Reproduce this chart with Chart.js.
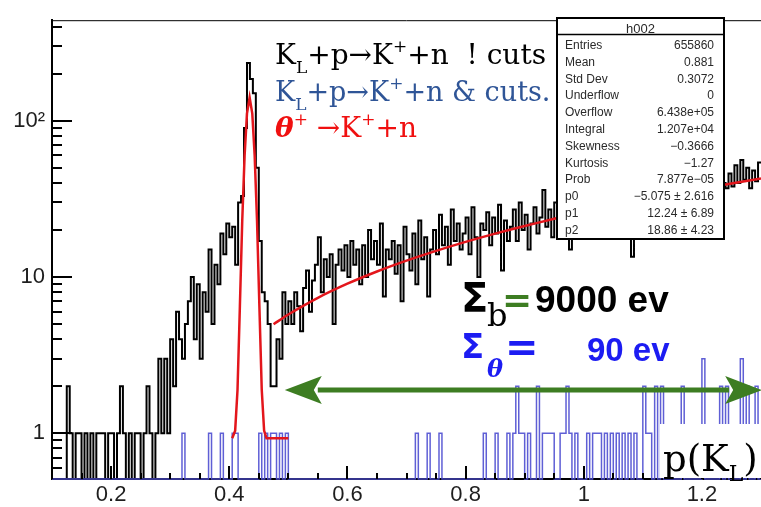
<!DOCTYPE html>
<html>
<head>
<meta charset="utf-8">
<title>p(K_L) spectrum</title>
<script src="https://cdn.jsdelivr.net/npm/chart.js@4.4.1/dist/chart.umd.min.js"></script>
<style>
  html, body { margin: 0; padding: 0; background: #fff; overflow: hidden; }
  #wrap { width: 761px; height: 507px; }
</style>
</head>
<body>
<div id="wrap"><canvas id="c" width="761" height="507"></canvas></div>
<script>
// ---- binning and axis ranges ----
const BIN_START = 0.100;
const BIN_WIDTH = 0.005;
const X_MIN = 0.1, X_MAX = 1.3;
const Y_MIN = 0.51, Y_MAX = 440;

const xTickValues = [0.2, 0.4, 0.6, 0.8, 1.0, 1.2];
const xTickLabels = ['0.2', '0.4', '0.6', '0.8', '1', '1.2'];
const yTickValues = [1, 10, 100];
const yTickLabels = ['1', '10', '10\u00B2'];
const yMinorValues = [0.6, 0.7, 0.8, 0.9, 2, 3, 4, 5, 6, 7, 8, 9, 20, 30, 40, 50, 60, 70, 80, 90, 200, 300, 400];

// ---- K_L + p -> K+ + n, no cuts (black), counts per 0.005 bin from 0.100 ----
const blackLow = [0, 0, 0, 0, 0, 2, 1, 0, 1, 1, 0, 1, 0, 1, 0, 1, 1, 1, 0, 1,
                  1, 0, 1, 2, 1, 0, 1, 0, 1, 1, 0, 1, 2, 1, 0, 1];            // 0.100 - 0.275
const blackRise = [3, 1, 3, 1, 4, 2, 6, 4, 3, 5, 7, 10, 4, 9, 3, 8, 6, 15, 5, 12,
                   9, 19, 14, 22, 18, 21, 12, 30];                             // 0.280 - 0.415
const blackPeak = [33, 90, 234, 185, 150, 50, 17, 8, 7, 5, 2, 2, 4, 3, 8, 5];  // 0.420 - 0.495
const blackMid = [7, 5, 8, 6.5, 4.5, 8.5, 11, 6, 9.5, 12,
                  18, 8, 13, 10, 14, 5, 12, 15, 11, 16,
                  10, 17, 12, 15, 9, 16, 10, 20, 13, 17,
                  12, 22, 7.5, 15, 13, 17, 10.5, 16, 7, 21,
                  14, 11, 19, 9, 23, 13, 18, 7.5, 15, 20,
                  14, 25, 16, 21, 12, 27, 17, 22, 15, 19,
                  24, 14, 28, 18, 10, 22, 20, 26, 16, 24,
                  19, 29, 11, 23, 17, 21, 27, 17, 30, 20,
                  25, 15, 22, 28, 19, 24, 36, 21, 27, 18,
                  30];                                                         // 0.500 - 0.950
const blackHigh = [20, 27, 22, 31, 15, 26, 21, 33, 24, 29,
                   19, 27, 34, 23, 30, 21, 28, 36, 25, 31,
                   22, 29, 35, 26, 30, 13.5, 24, 37, 27, 33,
                   23, 31, 39, 28, 35, 25, 32, 40, 29, 36,
                   26, 34, 42, 30, 37, 28, 35, 44, 32, 39,
                   29, 38, 46, 33, 41, 31, 40, 37, 46, 38,
                   52, 40, 56, 42, 50, 37, 48, 41, 54];                        // 0.955 - 1.295
const blackCounts = [...blackLow, ...blackRise, ...blackPeak, ...blackMid, ...blackHigh];

// ---- K_L + p -> K+ + n with cuts (blue): occupied bins only ----
const blueBinLow = [0.320, 0.365, 0.385, 0.405, 0.410, 0.450, 0.460, 0.470, 0.475, 0.485, 0.495,
                    0.715, 0.735, 0.755, 0.830, 0.850, 0.870, 0.880, 0.885, 0.890, 0.895,
                    0.905, 0.920, 0.930, 0.935, 0.940, 0.945, 0.960, 0.965, 0.970, 0.975,
                    0.985, 1.005, 1.015, 1.020, 1.025, 1.035, 1.045, 1.055, 1.065, 1.075,
                    1.085, 1.100, 1.105, 1.110, 1.120, 1.130, 1.165, 1.200, 1.230, 1.240,
                    1.265, 1.275, 1.290];
const blueBinCount = [1, 1, 1, 1, 1, 1, 1, 1, 1, 1, 1,
                      1, 1, 1, 1, 1, 1, 1, 2, 1, 1,
                      1, 2, 1, 1, 1, 1, 1, 1, 2, 1,
                      1, 1, 1, 1, 1, 1, 1, 1, 1, 1,
                      1, 2, 1, 1, 2, 2, 2, 3, 2, 2,
                      3, 2, 2];

// ---- theta+ -> K+ + n signal shape (red) ----
const peakX = [0.405, 0.410, 0.414, 0.418, 0.422, 0.426, 0.430, 0.4345, 0.439, 0.443, 0.447, 0.451, 0.455, 0.459, 0.463, 0.500];
const peakY = [0.93, 1.04, 1.9, 6.5, 23, 60, 111, 141, 111, 60, 23, 6.5, 1.9, 1.04, 0.93, 0.93];

// ---- background fit (pol2, parameters p0..p2 in the stats box) ----
const fitX = [0.475, 0.50, 0.55, 0.60, 0.65, 0.70, 0.75, 0.80, 0.85, 0.90, 0.95, 1.00, 1.05, 1.10, 1.15, 1.20, 1.25, 1.30];
const fitY = [4.99, 5.76, 7.36, 9.06, 10.85, 12.73, 14.71, 16.79, 18.96, 21.22, 23.57, 26.03, 28.57, 31.21, 33.94, 36.77, 39.69, 42.71];

// ---- statistics panel ----
const statTitle = 'h002';
const statNames = ['Entries', 'Mean', 'Std Dev', 'Underflow', 'Overflow', 'Integral', 'Skewness', 'Kurtosis', 'Prob', 'p0', 'p1', 'p2'];
const statValues = ['655860', '0.881', '0.3072', '0', '6.438e+05', '1.207e+04', '\u22120.3666', '\u22121.27',
                    '7.877e\u221205', '\u22125.075 \u00B1 2.616', '12.24 \u00B1 6.89', '18.86 \u00B1 4.23'];

// green double arrow spanning the momentum window (data coordinates)
const arrowX = [0.494, 1.302];
const arrowY = 1.89;

// ---------------------------------------------------------------
function binEdge(i) { return +(BIN_START + i * BIN_WIDTH).toFixed(4); }

// step outline of a histogram; empty bins sit on the bottom of the log axis
function histPoints(counts) {
  const pts = counts.map((c, i) => ({ x: binEdge(i), y: c > 0 ? c : Y_MIN }));
  pts.push({ x: binEdge(counts.length), y: pts[pts.length - 1].y });
  return pts;
}

const blueCounts = new Array(blackCounts.length).fill(0);
blueBinLow.forEach((b, k) => { blueCounts[Math.round((b - BIN_START) / BIN_WIDTH)] = blueBinCount[k]; });

const RED = '#e3161c';
const GREEN = '#3d7d22';

function drawRuns(ctx, x, y, runs) {
  for (const r of runs) {
    ctx.font = r.font;
    ctx.fillStyle = r.color;
    ctx.fillText(r.text, x, y + (r.dy || 0));
    x += ctx.measureText(r.text).width;
  }
}

const decor = {
  id: 'decor',
  afterDatasetsDraw(chart) {
    const { ctx, chartArea: a, scales: { x, y } } = chart;
    ctx.save();
    ctx.strokeStyle = '#000';
    ctx.lineWidth = 1;
    ctx.beginPath();
    ctx.moveTo(a.left, a.top + 0.5);
    ctx.lineTo(a.right, a.top + 0.5);
    ctx.stroke();

    ctx.lineWidth = 2;
    ctx.beginPath();
    for (let k = 0; k <= Math.round((X_MAX - X_MIN) / 0.05); k++) {
      const v = X_MIN + k * 0.05;
      const px = Math.round(x.getPixelForValue(v));
      const major = xTickValues.some(t => Math.abs(t - v) < 1e-6);
      ctx.moveTo(px, a.bottom);
      ctx.lineTo(px, a.bottom - (major ? 13 : 6));
    }
    for (const v of yTickValues) {
      const py = Math.round(y.getPixelForValue(v));
      ctx.moveTo(a.left, py); ctx.lineTo(a.left + 20, py);
    }
    for (const v of yMinorValues) {
      const py = Math.round(y.getPixelForValue(v));
      ctx.moveTo(a.left, py); ctx.lineTo(a.left + 10, py);
    }
    ctx.stroke();
    ctx.restore();
  },
  afterDraw(chart) {
    const { ctx, scales: { x, y } } = chart;
    ctx.save();
    ctx.textBaseline = 'alphabetic';
    ctx.textAlign = 'left';

    // legend lines
    const serif = '"DejaVu Serif", serif';
    const big = '28px ' + serif, small = '17px ' + serif;
    drawRuns(ctx, 275, 64, [
      { text: 'K', font: big, color: '#000' },
      { text: 'L', font: small, color: '#000', dy: 9 },
      { text: '+p\u2192K', font: big, color: '#000' },
      { text: '+', font: small, color: '#000', dy: -12 },
      { text: '+n  ! cuts', font: big, color: '#000' }
    ]);
    const lb = '#2f5597';
    const big2 = '27px ' + serif;
    drawRuns(ctx, 275, 101, [
      { text: 'K', font: big2, color: lb },
      { text: 'L', font: small, color: lb, dy: 9 },
      { text: '+p\u2192K', font: big2, color: lb },
      { text: '+', font: small, color: lb, dy: -12 },
      { text: '+n & cuts.', font: big2, color: lb }
    ]);
    drawRuns(ctx, 275, 137, [
      { text: '\u03B8', font: 'bold italic 28px ' + serif, color: '#f01010' },
      { text: '+', font: small, color: '#f01010', dy: -12 },
      { text: ' \u2192K', font: big, color: '#f01010' },
      { text: '+', font: small, color: '#f01010', dy: -12 },
      { text: '+n', font: big, color: '#f01010' }
    ]);

    // event counts
    const sans = '"DejaVu Sans", sans-serif';
    ctx.fillStyle = '#000';
    ctx.font = 'bold 40px ' + sans;
    ctx.fillText('\u03A3', 461, 312);
    ctx.font = '32px ' + serif;
    ctx.fillText('b', 487, 326);
    ctx.fillStyle = GREEN;
    ctx.font = 'bold 36px ' + sans;
    ctx.fillText('=', 502, 312);
    ctx.fillStyle = '#000';
    ctx.font = 'bold 37px "Liberation Sans", Arial, sans-serif';
    ctx.fillText('9000 ev', 535, 312);

    const sb = '#1c1cf2';
    ctx.fillStyle = sb;
    ctx.font = 'bold 34px ' + sans;
    ctx.fillText('\u03A3', 461, 358);
    ctx.font = 'bold italic 24px ' + serif;
    ctx.fillText('\u03B8', 487, 377);
    ctx.font = 'bold 40px ' + sans;
    ctx.fillText('=', 505, 361);
    ctx.font = 'bold 33px "Liberation Sans", Arial, sans-serif';
    ctx.fillText('90 ev', 587, 361);

    // double arrow
    const ax0 = x.getPixelForValue(arrowX[0]);
    const ax1 = x.getPixelForValue(arrowX[1]);
    const ay = y.getPixelForValue(arrowY);
    const head = 37, half = 14;
    ctx.strokeStyle = GREEN;
    ctx.fillStyle = GREEN;
    ctx.lineWidth = 5;
    ctx.beginPath();
    ctx.moveTo(ax0 + head - 4, ay);
    ctx.lineTo(ax1 - head + 4, ay);
    ctx.stroke();
    ctx.beginPath();
    ctx.moveTo(ax0, ay);
    ctx.lineTo(ax0 + head, ay - half);
    ctx.lineTo(ax0 + head - 8, ay);
    ctx.lineTo(ax0 + head, ay + half);
    ctx.closePath();
    ctx.fill();
    ctx.beginPath();
    ctx.moveTo(ax1, ay);
    ctx.lineTo(ax1 - head, ay - half);
    ctx.lineTo(ax1 - head + 8, ay);
    ctx.lineTo(ax1 - head, ay + half);
    ctx.closePath();
    ctx.fill();

    // axis title on a white patch
    ctx.fillStyle = '#fff';
    ctx.fillRect(660, 424, 101, 54);
    drawRuns(ctx, 663, 471, [
      { text: 'p(K', font: '37px ' + serif, color: '#000' },
      { text: 'L', font: '22px ' + serif, color: '#000', dy: 10 },
      { text: ')', font: '37px ' + serif, color: '#000' }
    ]);

    // statistics box
    const bx = 557, by = 18, bw = 167, bh = 221;
    ctx.fillStyle = '#fff';
    ctx.fillRect(bx, by, bw, bh);
    ctx.strokeStyle = '#000';
    ctx.lineWidth = 2;
    ctx.strokeRect(bx, by, bw, bh);
    ctx.lineWidth = 1.5;
    ctx.beginPath();
    ctx.moveTo(bx, by + 16.5);
    ctx.lineTo(bx + bw, by + 16.5);
    ctx.stroke();
    const hf = '12px "Liberation Sans", Arial, sans-serif';
    ctx.fillStyle = '#2a2a2a';
    ctx.font = '13px "Liberation Sans", Arial, sans-serif';
    ctx.textAlign = 'center';
    ctx.fillText(statTitle, bx + bw / 2, by + 15);
    ctx.font = hf;
    statNames.forEach((n, i) => {
      const ry = 49 + i * 16.8;
      ctx.textAlign = 'left';
      ctx.fillText(n, bx + 8, ry);
      ctx.textAlign = 'right';
      ctx.fillText(statValues[i], bx + bw - 10, ry);
    });
    ctx.restore();
  }
};

new Chart(document.getElementById('c'), {
  type: 'line',
  data: {
    datasets: [
      {
        label: 'theta+ -> K+ n',
        data: peakX.map((v, i) => ({ x: v, y: peakY[i] })),
        borderColor: RED, borderWidth: 2.5, pointRadius: 0, tension: 0, order: 0
      },
      {
        label: 'background fit',
        data: fitX.map((v, i) => ({ x: v, y: fitY[i] })),
        borderColor: RED, borderWidth: 2.5, pointRadius: 0, tension: 0.3, order: 0
      },
      {
        label: 'with cuts',
        data: histPoints(blueCounts),
        stepped: 'before', borderColor: 'rgba(78,78,208,0.9)', borderWidth: 1.5,
        pointRadius: 0, clip: false, order: 1
      },
      {
        label: 'no cuts',
        data: histPoints(blackCounts),
        stepped: 'before', borderColor: '#000', borderWidth: 2,
        pointRadius: 0, clip: false, order: 2
      }
    ]
  },
  options: {
    responsive: false,
    devicePixelRatio: 1,
    animation: false,
    events: [],
    layout: { padding: { top: 9, left: 0, right: 0, bottom: 0 } },
    plugins: { legend: { display: false }, tooltip: { enabled: false } },
    scales: {
      x: {
        type: 'linear', min: X_MIN, max: X_MAX,
        grid: { display: false, drawTicks: false },
        border: { display: true, color: '#000', width: 2 },
        afterBuildTicks: s => { s.ticks = xTickValues.map(v => ({ value: v })); },
        afterFit: s => { s.height = 28; },
        ticks: {
          padding: 3, maxRotation: 0, autoSkip: false, color: '#1e1e1e',
          font: { family: '"Liberation Sans", Arial, sans-serif', size: 22 },
          callback: (v, i) => xTickLabels[i]
        }
      },
      y: {
        type: 'logarithmic', min: Y_MIN, max: Y_MAX,
        grid: { display: false, drawTicks: false },
        border: { display: true, color: '#000', width: 2 },
        afterBuildTicks: s => { s.ticks = yTickValues.map(v => ({ value: v })); },
        afterFit: s => { s.width = 52; },
        ticks: {
          padding: 7, autoSkip: false, color: '#1e1e1e',
          font: { family: '"Liberation Sans", Arial, sans-serif', size: 22 },
          callback: (v, i) => yTickLabels[i]
        }
      }
    }
  },
  plugins: [decor]
});
</script>
</body>
</html>
